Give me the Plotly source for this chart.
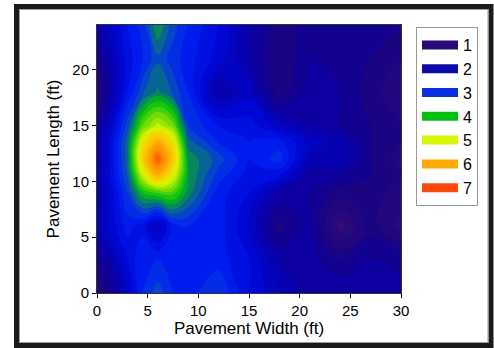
import plotly.graph_objects as go

# Grid positions (ft)
width_ft = [0, 3, 4.5, 6, 7.5, 9, 12, 15, 18, 21, 24, 27, 30]
length_ft = [0, 3, 6, 9, 10.5, 12, 13.5, 15, 18, 21, 24]

# Values, one row per pavement length
row_0 = [1.2, 2.3, 3.0, 3.3, 3.0, 2.9, 3.2, 2.6, 2.2, 1.9, 2.0, 2.0, 1.9]
row_3 = [1.6, 2.6, 3.0, 3.0, 3.0, 3.0, 2.9, 2.6, 2.0, 1.9, 1.6, 1.8, 1.7]
row_6 = [2.1, 2.9, 2.7, 2.2, 2.9, 3.0, 2.9, 2.4, 1.5, 1.9, 0.9, 1.5, 1.1]
row_9 = [1.9, 3.2, 4.0, 4.25, 4.3, 3.7, 2.9, 2.6, 2.0, 1.8, 1.5, 1.5, 1.3]
row_10_5 = [2.0, 3.4, 4.9, 5.9, 5.1, 3.8, 3.1, 2.7, 2.6, 1.9, 1.8, 1.6, 1.4]
row_12 = [1.9, 3.5, 5.5, 6.85, 5.6, 3.75, 3.3, 2.8, 3.1, 2.1, 2.2, 1.6, 1.3]
row_13_5 = [1.9, 3.5, 5.2, 6.0, 5.3, 3.5, 3.0, 2.8, 2.9, 2.3, 2.1, 1.6, 1.4]
row_15 = [1.7, 3.3, 4.4, 4.9, 4.5, 3.2, 2.8, 2.7, 2.3, 2.0, 1.8, 1.6, 1.4]
row_18 = [1.3, 2.8, 3.35, 3.65, 3.35, 3.0, 2.0, 2.3, 1.45, 1.9, 1.8, 1.5, 1.2]
row_21 = [1.6, 2.7, 3.0, 3.35, 3.1, 2.9, 2.5, 2.0, 1.4, 1.8, 1.7, 1.6, 1.4]
row_24 = [2.0, 2.8, 3.1, 3.8, 3.3, 3.0, 2.6, 2.0, 1.5, 1.7, 1.7, 1.7, 1.6]

z_rows = [row_0, row_3, row_6, row_9, row_10_5, row_12, row_13_5,
          row_15, row_18, row_21, row_24]

legend_labels = ["1", "2", "3", "4", "5", "6", "7"]
legend_colors = ["#2b0a7a", "#0a0aa8", "#0a30e0", "#00c010", "#d8f800", "#ffaa00", "#ff4a0a"]

zmin, zmax = 0.8, 7.0
scale_values = [0.8, 1.0, 1.5, 2.0, 2.5, 3.0, 3.3, 3.6, 4.0, 4.5, 5.0, 5.5, 6.0, 6.4, 6.8, 7.0]
scale_colors = ["#440a72", "#2b0a7a", "#1a0482", "#0800a8", "#0006d4", "#0020f5",
                "#0545c8", "#0a7478", "#00c010", "#70dc08", "#d8f800", "#f8d000",
                "#ffaa00", "#ff8c00", "#ff5800", "#ff4000"]
colorscale = [[(v - zmin) / (zmax - zmin), c] for v, c in zip(scale_values, scale_colors)]

fig = go.Figure()
fig.add_trace(go.Contour(
    x=width_ft, y=length_ft, z=z_rows,
    colorscale=colorscale, zmin=zmin, zmax=zmax,
    autocontour=False,
    contours=dict(start=0.8, end=7.0, size=0.2, coloring="fill"),
    line=dict(width=0, smoothing=1.3),
    showscale=False, hoverinfo="skip", showlegend=False,
))

for lab, col in zip(legend_labels, legend_colors):
    fig.add_trace(go.Scatter(
        x=[None], y=[None], mode="lines", name=lab,
        line=dict(color=col, width=9),
    ))

L, R, T, B = 97, 93, 25, 55
W, H = 494, 348
pw, ph = W - L - R, H - T - B

def px_x(p):
    return (p - L) / pw

def px_y(p):
    return (H - B - p) / ph

fig.add_shape(type="rect", xref="paper", yref="paper",
              x0=px_x(16.5), x1=px_x(491), y0=px_y(345.5), y1=px_y(6.5),
              line=dict(color="#1a1a1a", width=5), layer="above")
fig.add_shape(type="rect", xref="paper", yref="paper",
              x0=px_x(19.5), x1=px_x(488), y0=px_y(342.5), y1=px_y(9.5),
              line=dict(color="#9a9a9a", width=1), layer="above")

fig.update_layout(
    width=W, height=H,
    margin=dict(l=L, r=R, t=T, b=B),
    paper_bgcolor="white", plot_bgcolor="white",
    font=dict(family="Liberation Sans, Arial, sans-serif", size=14, color="black"),
    showlegend=True,
    legend=dict(x=px_x(416), y=px_y(27), xanchor="left", yanchor="top",
                bordercolor="#999999", borderwidth=1, bgcolor="white",
                font=dict(size=16), tracegroupgap=0, itemwidth=36,
                entrywidth=42, entrywidthmode="pixels"),
    xaxis=dict(range=[0, 30], tickvals=[0, 5, 10, 15, 20, 25, 30],
               ticks="outside", ticklen=4, tickcolor="black", tickfont=dict(size=15),
               showline=True, linecolor="#333", mirror=True, showgrid=False, zeroline=False,
               title=dict(text="Pavement Width (ft)", standoff=4)),
    yaxis=dict(range=[0, 24], tickvals=[0, 5, 10, 15, 20],
               ticks="outside", ticklen=4, tickcolor="black", tickfont=dict(size=15),
               showline=True, linecolor="#333", mirror=True, showgrid=False, zeroline=False,
               title=dict(text="Pavement Length (ft)", standoff=8)),
)

fig.write_html("out.html", config={"displayModeBar": False},
               post_script="document.body.style.margin='0px';")
